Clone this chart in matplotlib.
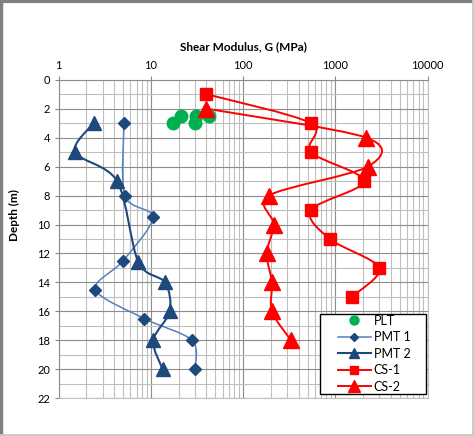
import matplotlib
matplotlib.use('Agg')
import matplotlib.pyplot as plt
import numpy as np
from matplotlib.path import Path
from matplotlib.patches import PathPatch, Rectangle
from matplotlib.lines import Line2D

plt.rcParams['font.family'] = ['Lato', 'DejaVu Sans']

# PLT (plate load test)
plt_depth = [3.0, 2.5, 3.0, 2.5, 2.5]
plt_g = [17.5, 21, 30, 31, 43]

# PMT 1
pmt1_depth = [3, 8, 9.5, 12.5, 14.5, 16.5, 18, 20]
pmt1_g = [5.1, 5.2, 10.5, 5.0, 2.5, 8.5, 28, 30]

# PMT 2
pmt2_depth = [3, 5, 7, 12.6, 14, 16, 18, 20]
pmt2_g = [2.4, 1.5, 4.3, 7.3, 14.2, 16, 10.6, 13.4]

# CS-1
cs1_depth = [1, 3, 5, 7, 9, 11, 13, 15]
cs1_g = [40, 540, 540, 2050, 540, 870, 3000, 1500]

# CS-2
cs2_depth = [2, 4, 6, 8, 10, 12, 14, 16, 18]
cs2_g = [40, 2150, 2250, 190, 215, 180, 205, 205, 330]

xticks = [1, 10, 100, 1000, 10000]
yticks = list(range(0, 23, 2))

fig = plt.figure(figsize=(4.74, 4.36), dpi=100)
ax = fig.add_axes([0.1238, 0.0865, 0.7785, 0.7307])
ax.set_xscale('log')
ax.set_xlim(1, 10000)
ax.set_ylim(22, 0)


def smooth_line(xs, ys, color, lw):
    # Excel-like smoothed line: Catmull-Rom bezier in display space
    pts = ax.transData.transform(np.column_stack([xs, ys]))
    n = len(pts)
    verts = [pts[0]]
    codes = [Path.MOVETO]
    for i in range(n - 1):
        p0 = pts[i - 1] if i > 0 else pts[i]
        p1 = pts[i]
        p2 = pts[i + 1]
        p3 = pts[i + 2] if i + 2 < n else pts[i + 1]
        c1 = p1 + (p2 - p0) / 6.5
        c2 = p2 - (p3 - p1) / 6.5
        verts += [c1, c2, p2]
        codes += [Path.CURVE4] * 3
    verts = ax.transData.inverted().transform(np.array(verts))
    patch = PathPatch(Path(verts, codes), facecolor='none', edgecolor=color,
                      lw=lw, zorder=3, capstyle='round', joinstyle='round')
    ax.add_patch(patch)


navy = '#1F497D'
light = '#4F81BD'
red = '#FF0000'
green = '#00B050'

smooth_line(pmt1_g, pmt1_depth, light, 1.1)
smooth_line(pmt2_g, pmt2_depth, navy, 1.5)
smooth_line(cs1_g, cs1_depth, red, 1.4)
smooth_line(cs2_g, cs2_depth, red, 1.4)

ax.plot(plt_g, plt_depth, 'o', color=green, ms=9, zorder=4, mec=green)
ax.plot(pmt1_g, pmt1_depth, 'D', color=navy, ms=6.5, zorder=4)
ax.plot(pmt2_g, pmt2_depth, '^', color=navy, ms=10, zorder=4)
ax.plot(cs1_g, cs1_depth, 's', color=red, ms=9, zorder=5)
ax.plot(cs2_g, cs2_depth, '^', color=red, ms=11, zorder=5)

# axes styling
ax.xaxis.tick_top()
ax.xaxis.set_label_position('top')
ax.set_xticks(xticks)
ax.set_xticklabels([str(t) for t in xticks])
ax.set_yticks(yticks)
ax.set_yticks(range(0, 23), minor=True)
ax.tick_params(axis='both', which='major', labelsize=8, length=3,
               color='#888888', pad=3)
ax.tick_params(axis='both', which='minor', length=0)
ax.tick_params(axis='x', which='minor', labeltop=False)
ax.grid(True, which='major', color='#8C8C8C', lw=0.8)
ax.grid(True, which='minor', color='#BFBFBF', lw=0.8)
ax.set_axisbelow(True)
for s in ax.spines.values():
    s.set_color('#BFBFBF')
    s.set_linewidth(0.8)
ax.spines['left'].set_color('#8C8C8C')
ax.spines['top'].set_color('#8C8C8C')

ax.set_xlabel('Shear Modulus, G (MPa)', fontsize=8.5, fontweight='bold',
              labelpad=7)
ax.set_ylabel('Depth (m)', fontsize=8.5, fontweight='bold')
ax.yaxis.set_label_coords(-0.105, 0.575)

# legend box (Excel style, wide left padding)
ax.add_patch(Rectangle((0.708, 0.0126), 0.2866, 0.2511, transform=ax.transAxes,
                       facecolor='white', edgecolor='black', lw=1.0,
                       zorder=9, clip_on=False))

handles = [
    Line2D([], [], ls='none', marker='o', color=green, ms=6.5),
    Line2D([], [], color=light, lw=1.1, marker='D', mfc=navy, mec=navy, ms=4.5),
    Line2D([], [], color=navy, lw=1.5, marker='^', ms=6.5),
    Line2D([], [], color=red, lw=1.4, marker='s', ms=6),
    Line2D([], [], color=red, lw=1.4, marker='^', ms=8),
]
labels = ['PLT', 'PMT 1', 'PMT 2', 'CS-1', 'CS-2']
leg = ax.legend(handles, labels, loc='upper left',
                bbox_to_anchor=(0.757, 0.262),
                fontsize=9, frameon=False, handlelength=2.6,
                labelspacing=0.36, borderpad=0, handletextpad=0.25,
                borderaxespad=0)
leg.set_zorder(10)

# outer chart border
fig.add_artist(Line2D([0, 1], [0.997, 0.997], color='#808080', lw=3,
                      transform=fig.transFigure))
fig.add_artist(Line2D([0.002, 0.002], [0, 1], color='#808080', lw=2.5,
                      transform=fig.transFigure))
fig.add_artist(Line2D([0, 1], [0.002, 0.002], color='#C8C8C8', lw=2,
                      transform=fig.transFigure))
fig.add_artist(Line2D([0.998, 0.998], [0, 1], color='#C8C8C8', lw=2,
                      transform=fig.transFigure))

fig.savefig('out.png', dpi=100)
